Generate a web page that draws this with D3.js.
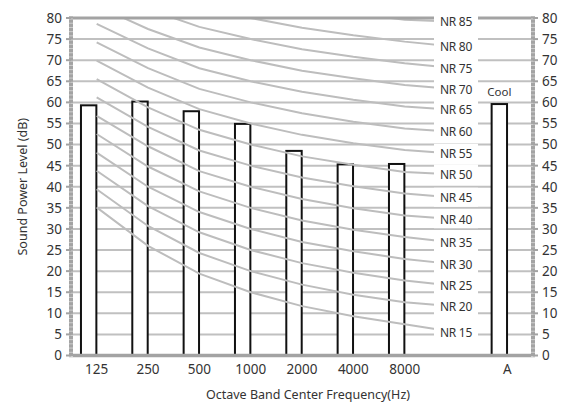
<!DOCTYPE html>
<html><head><meta charset="utf-8">
<script src="https://cdn.jsdelivr.net/npm/d3@7"></script>
<style>body{margin:0;background:#fff}svg text{font-family:"Noto Sans",sans-serif;fill:#333}</style>
</head><body><svg id="c" width="564" height="407"></svg>
<script>
// ---- data ----
const categories = ["125","250","500","1000","2000","4000","8000","","A"];
const barValues  = [59.3, 60.2, 57.9, 54.9, 48.5, 45.3, 45.4, null, 59.6];
const barNotes   = ["","","","","","","","","Cool"];
const yTicks = [0,5,10,15,20,25,30,35,40,45,50,55,60,65,70,75,80];
const nrNames = ["NR 15","NR 20","NR 25","NR 30","NR 35","NR 40","NR 45","NR 50","NR 55","NR 60","NR 65","NR 70","NR 75","NR 80","NR 85"];
// NR curve values at 125,250,500,1000,2000,4000,8000 Hz
const nr15 = [35.1, 26.0, 19.4, 15, 11.7,  9.3,  7.4];
const nr20 = [39.4, 30.7, 24.3, 20, 16.8, 14.4, 12.6];
const nr25 = [43.8, 35.4, 29.2, 25, 21.9, 19.6, 17.8];
const nr30 = [48.1, 40.0, 34.0, 30, 26.9, 24.7, 22.9];
const nr35 = [52.5, 44.8, 38.9, 35, 32.0, 29.8, 28.1];
const nr40 = [56.8, 49.6, 43.7, 40, 37.1, 34.9, 33.2];
const nr45 = [61.2, 54.2, 48.6, 45, 42.2, 40.1, 38.4];
const nr50 = [65.5, 58.8, 53.5, 50, 47.2, 45.2, 43.5];
const nr55 = [69.9, 63.5, 58.4, 55, 52.3, 50.3, 48.7];
const nr60 = [74.2, 68.1, 63.2, 60, 57.4, 55.4, 53.8];
const nr65 = [78.6, 72.8, 68.1, 65, 62.5, 60.6, 59.0];
const nr70 = [82.9, 77.4, 73.0, 70, 67.5, 65.7, 64.1];
const nr75 = [87.3, 82.1, 77.9, 75, 72.6, 70.8, 69.3];
const nr80 = [91.6, 86.7, 82.7, 80, 77.7, 75.9, 74.4];
const nr85 = [96.0, 91.4, 87.6, 85, 82.8, 81.1, 79.6];
// value at the label point (empty slot after 8000)
const nrLabelValues = [5.5, 11.6, 16.5, 21.6, 26.7, 32.3, 37.4, 42.9, 47.8, 53.0, 58.2, 63.1, 68.1, 73.2, 79.1];
const nrCurves = [nr15,nr20,nr25,nr30,nr35,nr40,nr45,nr50,nr55,nr60,nr65,nr70,nr75,nr80,nr85];

// ---- layout ----
const L = 71, R = 533, T = 18, B = 355.5;
const svg = d3.select("#c");
const x = d3.scaleBand().domain(d3.range(categories.length)).range([L, R]).padding(0);
const cx = i => x(i) + x.bandwidth() / 2;
const y = d3.scaleLinear().domain([0, 80]).range([B, T]);

svg.append("defs").append("clipPath").attr("id","plot")
  .append("rect").attr("x", L).attr("y", T).attr("width", R - L).attr("height", B - T);

// gridlines
svg.append("g").selectAll("line").data(yTicks.filter(t => t > 0 && t < 80)).join("line")
  .attr("x1", L).attr("x2", R).attr("y1", d => y(d)).attr("y2", d => y(d))
  .attr("stroke", "#c0c0c0").attr("stroke-width", 2);

// bars
const bw = x.bandwidth() * 0.3;
svg.append("g").selectAll("rect").data(barValues.map((v, i) => ({v, i})).filter(d => d.v != null)).join("rect")
  .attr("x", d => cx(d.i) - bw - 0.3).attr("width", bw)
  .attr("y", d => y(d.v)).attr("height", d => y(0) - y(d.v))
  .attr("fill", "#fff").attr("stroke", "#111").attr("stroke-width", 2);

svg.append("g").selectAll("text").data(barNotes.map((n, i) => ({n, i})).filter(d => d.n)).join("text")
  .attr("x", d => cx(d.i) - bw / 2 - 0.3).attr("y", d => y(barValues[d.i]) - 8)
  .attr("text-anchor", "middle").attr("font-size", 11.5).text(d => d.n);

// NR curves
const line = d3.line().x(d => cx(d[0])).y(d => y(d[1]));
const gl = svg.append("g").attr("clip-path", "url(#plot)");
nrCurves.forEach((c, k) => {
  const pts = c.map((v, i) => [i, v]);
  pts.push([7, nrLabelValues[k]]);
  gl.append("path").attr("d", line(pts)).attr("fill", "none")
    .attr("stroke", "#bdbdbd").attr("stroke-width", 2);
});

// axes frame
svg.append("line").attr("x1", L - 2).attr("x2", R + 2).attr("y1", y(80)).attr("y2", y(80))
  .attr("stroke", "#a3a3a3").attr("stroke-width", 3);

// NR labels
const gLab = svg.append("g");
nrNames.forEach((n, k) => {
  const px = cx(7), py = y(nrLabelValues[k]);
  gLab.append("rect").attr("x", px - 22).attr("y", py - 10).attr("width", 44).attr("height", 19).attr("fill", "#fff");
  gLab.append("text").attr("x", px).attr("y", py).attr("dy", "0.36em")
    .attr("text-anchor", "middle").attr("font-size", 12).attr("letter-spacing", -0.3).text(n);
});

svg.append("line").attr("x1", L - 2).attr("x2", R + 2).attr("y1", y(0)).attr("y2", y(0))
  .attr("stroke", "#a3a3a3").attr("stroke-width", 3.5);
[L, R].forEach((ax, s) => {
  svg.append("line").attr("x1", ax).attr("x2", ax).attr("y1", y(80) - 1.5).attr("y2", y(0) + 1.5)
    .attr("stroke", "#a3a3a3").attr("stroke-width", 4);
  svg.append("g").selectAll("line").data(d3.range(0, 81, 1)).join("line")
    .attr("x1", ax - 2).attr("x2", ax + 2).attr("y1", d => y(d) + 1).attr("y2", d => y(d) + 1)
    .attr("stroke", "#cfcfcf").attr("stroke-width", 1);
  svg.append("g").selectAll("line").data(yTicks).join("line")
    .attr("x1", s ? ax : ax - 5).attr("x2", s ? ax + 5 : ax).attr("y1", d => y(d)).attr("y2", d => y(d))
    .attr("stroke", "#a3a3a3").attr("stroke-width", 2);
});

// tick labels
svg.append("g").selectAll("text").data(yTicks).join("text")
  .attr("x", L - 9).attr("y", d => y(d)).attr("dy", "0.36em").attr("text-anchor", "end")
  .attr("font-size", 13.5).text(d => d);
svg.append("g").selectAll("text").data(yTicks).join("text")
  .attr("x", R + 9).attr("y", d => y(d)).attr("dy", "0.36em").attr("text-anchor", "start")
  .attr("font-size", 13.5).text(d => d);
svg.append("g").selectAll("text").data(categories.map((c, i) => ({c, i}))).join("text")
  .attr("x", d => cx(d.i)).attr("y", 369).attr("dy", "0.36em").attr("text-anchor", "middle")
  .attr("font-size", 13.5).text(d => d.c);

// titles
svg.append("text").attr("x", (L + R) / 2 + 6).attr("y", 394).attr("dy", "0.36em").attr("text-anchor", "middle")
  .attr("font-size", 12.5).text("Octave Band Center Frequency(Hz)");
svg.append("text").attr("transform", `translate(22,${(T + B) / 2}) rotate(-90)`).attr("dy", "0.36em")
  .attr("text-anchor", "middle").attr("font-size", 12.5).text("Sound Power Level (dB)");
</script></body></html>
